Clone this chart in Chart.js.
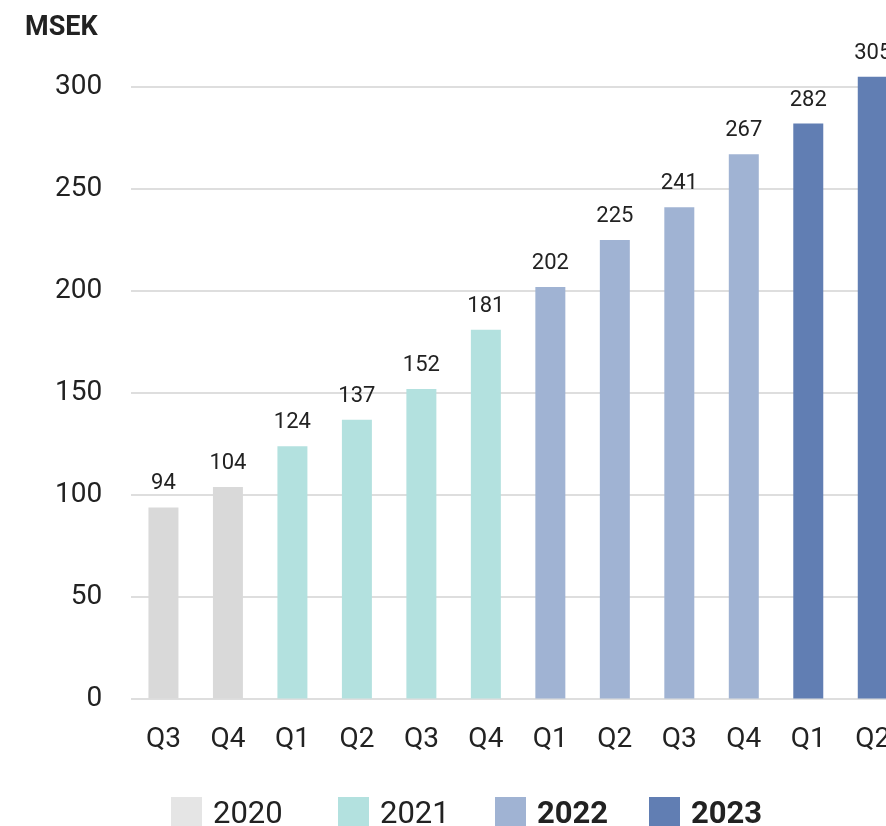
<!DOCTYPE html>
<html>
<head>
<meta charset="utf-8">
<script src="https://cdn.jsdelivr.net/npm/chart.js@4"></script>
<style>
  html, body { margin: 0; padding: 0; background: #fff; overflow: hidden; }
  #wrap { position: relative; width: 910px; height: 826px; font-family: Roboto, sans-serif; color: #222; }
  #chartBox { position: absolute; left: 0; top: 0; width: 910px; height: 798px; }
  #unit { position: absolute; left: 25px; top: 13px; font-weight: bold; font-size: 27px; line-height: 1; }
  #legend { position: absolute; left: 0; top: 797px; width: 910px; height: 31px; font-size: 31px; line-height: 1; }
  #legend .item { position: absolute; top: 0; display: flex; align-items: center; }
  #legend .item:nth-child(1) { left: 171px; }
  #legend .item:nth-child(2) { left: 338px; }
  #legend .item:nth-child(3) { left: 495px; }
  #legend .item:nth-child(4) { left: 649px; }
  #legend .sw { width: 31px; height: 31px; margin-right: 11px; }
</style>
</head>
<body>
<div id="wrap">
  <div id="chartBox"><canvas id="myChart"></canvas></div>
  <div id="unit">MSEK</div>
  <div id="legend"></div>
</div>
<script>
// -------------------------- data -------------------------------- //
const quarters = ['Q3', 'Q4', 'Q1', 'Q2', 'Q3', 'Q4', 'Q1', 'Q2', 'Q3', 'Q4', 'Q1', 'Q2'];
const quarterYear = ['2020', '2020', '2021', '2021', '2021', '2021', '2022', '2022', '2022', '2022', '2023', '2023'];
const values = [94, 104, 124, 137, 152, 181, 202, 225, 241, 267, 282, 305];
const years = ['2020', '2021', '2022', '2023'];
const boldYears = ['2022', '2023'];
const yTicks = [0, 50, 100, 150, 200, 250, 300];

const yearColors = {
    '2020': '#d9d9d9',
    '2021': '#b3e1df',
    '2022': '#a0b3d3',
    '2023': '#617eb3'
};
// legend swatch for 2020 is a touch lighter than the bars
const legendColors = Object.assign({}, yearColors, { '2020': '#e5e5e5' });

// numbers above the bars
const valueLabels = {
    id: 'valueLabels',
    afterDatasetsDraw(chart) {
        const ctx = chart.ctx;
        const meta = chart.getDatasetMeta(0);
        ctx.save();
        ctx.font = '22px Roboto';
        ctx.fillStyle = '#222';
        ctx.textAlign = 'center';
        ctx.textBaseline = 'alphabetic';
        meta.data.forEach((bar, i) => {
            ctx.fillText(String(values[i]), bar.x, bar.y - 18);
        });
        ctx.restore();
    }
};

// -------------------------- chart -------------------------------- //
const ctx1 = document.getElementById('myChart');
const myChart = new Chart(ctx1, {
    type: 'bar',
    data: {
        labels: quarters,
        datasets: [{
            data: values,
            backgroundColor: quarterYear.map(y => yearColors[y]),
            borderWidth: 0,
            categoryPercentage: 1.0,
            barPercentage: 0.465
        }]
    },
    options: {
        responsive: true,
        maintainAspectRatio: false,
        animation: false,
        layout: {
            padding: { left: 26, right: 5, top: 46, bottom: 25 }
        },
        plugins: {
            legend: { display: false },
            tooltip: { enabled: false }
        },
        scales: {
            x: {
                grid: { display: false },
                border: { display: false },
                ticks: {
                    padding: 16,
                    color: '#222',
                    font: { family: 'Roboto', size: 28 }
                }
            },
            y: {
                min: 0,
                max: 320,
                afterBuildTicks(axis) {
                    axis.ticks = yTicks.map(v => ({ value: v }));
                },
                grid: { color: '#dedede', lineWidth: 2, drawTicks: false },
                border: { display: false },
                ticks: {
                    padding: 29,
                    color: '#222',
                    font: { family: 'Roboto', size: 28 }
                }
            }
        }
    },
    plugins: [valueLabels]
});

// -------------------------- legend -------------------------------- //
const legendBox = document.getElementById('legend');
years.forEach(y => {
    const item = document.createElement('div');
    item.className = 'item';
    const sw = document.createElement('span');
    sw.className = 'sw';
    sw.style.background = legendColors[y];
    const txt = document.createElement('span');
    txt.textContent = y;
    if (boldYears.includes(y)) txt.style.fontWeight = 'bold';
    item.appendChild(sw);
    item.appendChild(txt);
    legendBox.appendChild(item);
});
</script>
</body>
</html>
